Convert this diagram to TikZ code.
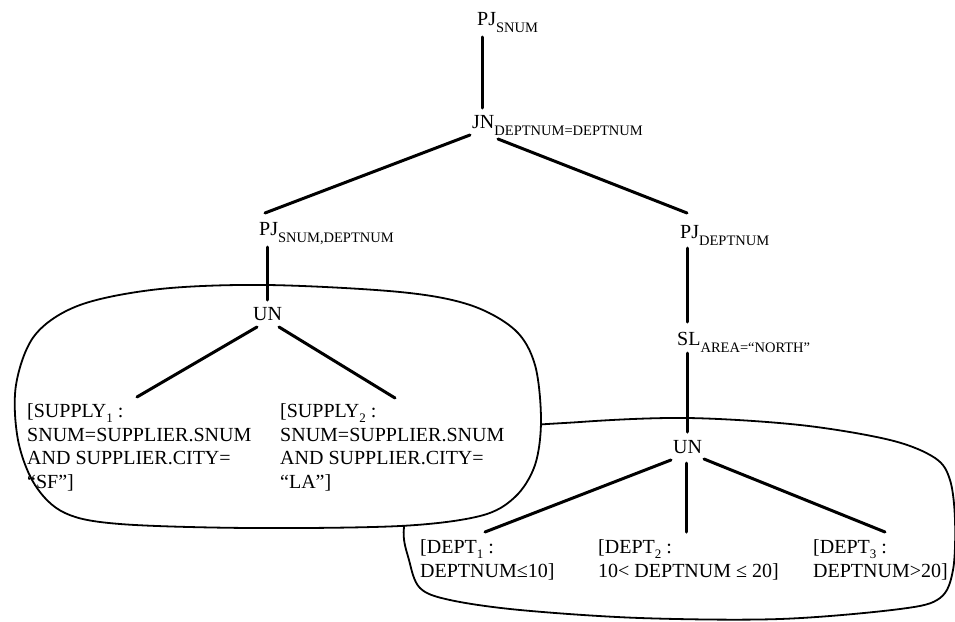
\documentclass[tikz,border=0pt]{standalone}
\usepackage{fontspec}
\setmainfont{Liberation Serif}
\usetikzlibrary{calc}

% small lowered text for operator parameters and fragment indices
\newcommand\lowtext[1]{\raisebox{-7pt}{\fontsize{14.5}{14.5}\selectfont #1}}
\newcommand\fragidx[1]{\raisebox{-5pt}{\fontsize{13}{13}\selectfont #1}}

\tikzset{
  op/.style={inner sep=0pt, anchor=base west, font=\fontsize{20}{23.4}\selectfont},
  frag/.style={inner sep=0pt, anchor=base west, align=left, font=\fontsize{20}{23.4}\selectfont},
  edge/.style={line width=3pt, line cap=round},
  blob/.style={line width=1.8pt}
}

\begin{document}
\begin{tikzpicture}[x=1pt,y=-1pt]
\useasboundingbox (0,0) rectangle (955,621);

% outline grouping the DEPT fragments (drawn first, partly hidden)
\draw[blob] plot[smooth cycle, tension=0.55] coordinates {
  (687,418) (800,425) (890,440) (935,458) (950,480) (955,520) (953,570)
  (940,598) (900,609) (780,619) (640,618) (520,610) (450,600) (420,588)
  (409,560) (404,527) (420,470) (490,432) (580,422)};

% outline grouping the SUPPLY fragments
\draw[blob, fill=white] plot[smooth cycle, tension=0.55] coordinates {
  (267,285) (400,292) (470,305) (515,330) (535,365) (541,420) (535,465)
  (515,497) (480,516) (400,526) (250,528) (120,524) (65,513) (35,485)
  (18,440) (16,385) (35,335) (80,305) (160,289)};

% operator nodes
\node[op] (pjsnum) at (477,25)  {PJ\lowtext{SNUM}};
\node[op] (jn)     at (472,128) {JN\lowtext{DEPTNUM=DEPTNUM}};
\node[op] (pjsd)   at (259,235) {PJ\lowtext{SNUM,DEPTNUM}};
\node[op] (pjd)    at (680,238) {PJ\lowtext{DEPTNUM}};
\node[op] (sl)     at (677,345) {SL\lowtext{AREA=“NORTH”}};
\node[op] (unl)    at (253,320) {UN};
\node[op] (unr)    at (673,453) {UN};

% fragment nodes (base anchor sits on the last line)
\node[frag] (sup1) at (27,488)
  {[SUPPLY\fragidx{1} :\\SNUM=SUPPLIER.SNUM\\AND SUPPLIER.CITY=\\“SF”]};
\node[frag] (sup2) at (280,488)
  {[SUPPLY\fragidx{2} :\\SNUM=SUPPLIER.SNUM\\AND SUPPLIER.CITY=\\“LA”]};
\node[frag] (d1) at (420,577) {[DEPT\fragidx{1} :\\DEPTNUM≤10]};
\node[frag] (d2) at (598,577) {[DEPT\fragidx{2} :\\10< DEPTNUM ≤ 20]};
\node[frag] (d3) at (813,577) {[DEPT\fragidx{3} :\\DEPTNUM>20]};

% tree edges
\draw[edge] ($(pjsnum.base west)+(5,12)$) -- ($(jn.base west)+(10,-20)$);
\draw[edge] ($(jn.base west)+(-2,7)$) -- ($(pjsd.base west)+(6,-22)$);
\draw[edge] ($(jn.base west)+(26,11)$) -- ($(pjd.base west)+(7,-25)$);
\draw[edge] ($(pjsd.base west)+(8,12)$) -- ($(unl.base west)+(14,-20)$);
\draw[edge] ($(unl.base west)+(4,7)$) -- ($(sup1.base west)+(110,-91)$);
\draw[edge] ($(unl.base west)+(26,7)$) -- ($(sup2.base west)+(115,-90)$);
\draw[edge] ($(pjd.base west)+(7,10)$) -- ($(sl.base west)+(10,-23)$);
\draw[edge] ($(sl.base west)+(10,8)$) -- ($(unr.base west)+(14,-21)$);
\draw[edge] ($(unr.base west)+(-2,7)$) -- ($(d1.base west)+(65,-45)$);
\draw[edge] ($(unr.base west)+(13,10)$) -- ($(d2.base west)+(88,-45)$);
\draw[edge] ($(unr.base west)+(31,6)$) -- ($(d3.base west)+(72,-45)$);
\end{tikzpicture}
\end{document}
